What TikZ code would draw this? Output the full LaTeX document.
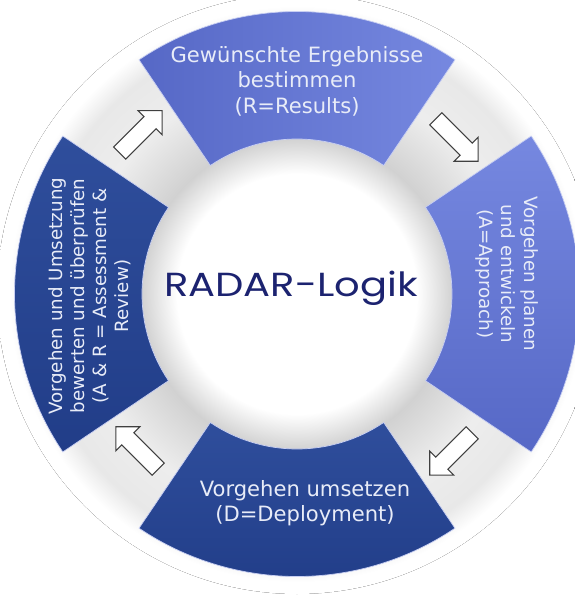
\documentclass[tikz,border=0pt]{standalone}
\usepackage{fontspec}
\setmainfont{DejaVu Sans}
\newfontfamily\titlefont{Poppins}
\usetikzlibrary{shapes.arrows}
\definecolor{RadarNavy}{HTML}{1C2370}
\definecolor{SegLight}{HTML}{7688E0}
\definecolor{SegMid}{HTML}{5668C6}
\definecolor{SegDark}{HTML}{2F4E9C}
\definecolor{SegDeep}{HTML}{213D88}
\definecolor{SegText}{HTML}{E8ECF8}
\pgfdeclareradialshading{ringglow}{\pgfpoint{0bp}{0bp}}{color(0bp)=(white); color(10bp)=(white); color(13bp)=(black!18); color(18bp)=(black!7); color(22bp)=(black!9); color(24bp)=(white); color(50bp)=(white)}

\begin{document}
\begin{tikzpicture}[
  seg/.style={draw=white!60!SegLight, line width=0.4pt},
  segtext/.style={text=SegText, align=center, inner sep=0pt},
  bigtext/.style={segtext, font=\fontsize{12}{14.5}\selectfont},
  sidetext/.style={segtext, font=\fontsize{10.4}{12.6}\selectfont},
  flowarrow/.style={single arrow, draw=black!75, fill=white, line width=0.6pt,
    minimum height=1.2cm, inner sep=0.16cm, single arrow head extend=0.17cm}
]
\useasboundingbox (-5.94,-6.04) rectangle (5.56,5.88);
\fill[white] (-5.94,-6.04) rectangle (5.56,5.88);
\fill[shading=ringglow] (0,0) circle (6.0);

% ring segments
\path[seg, left color=SegMid, right color=SegLight]
  (56:3.1) arc[start angle=56, end angle=124, radius=3.1]
  -- (124:5.65) arc[start angle=124, end angle=56, radius=5.65] -- cycle;
\path[seg, top color=SegLight, bottom color=SegMid]
  (-34:3.1) arc[start angle=-34, end angle=34, radius=3.1]
  -- (34:5.65) arc[start angle=34, end angle=-34, radius=5.65] -- cycle;
\path[seg, top color=SegDark, bottom color=SegDeep]
  (236:3.1) arc[start angle=236, end angle=304, radius=3.1]
  -- (304:5.65) arc[start angle=304, end angle=236, radius=5.65] -- cycle;
\path[seg, top color=SegDark, bottom color=SegDeep]
  (146:3.1) arc[start angle=146, end angle=214, radius=3.1]
  -- (214:5.65) arc[start angle=214, end angle=146, radius=5.65] -- cycle;

\node[bigtext] (res) at (0,4.26) {Gewünschte Ergebnisse\\bestimmen\\(R=Results)};
\node[sidetext, rotate=-90] (app) at (4.2,0.4) {Vorgehen planen\\und entwickeln\\(A=Approach)};
\node[bigtext] (dep) at (0.16,-4.18) {Vorgehen umsetzen\\(D=Deployment)};
\node[sidetext, rotate=90] (ass) at (-4.14,-0.04) {Vorgehen und Umsetzung\\bewerten und überprüfen\\(A \& R = Assessment \&\\Review)};

\node[font=\titlefont\fontsize{19}{21}\selectfont, text=RadarNavy, anchor=base, xscale=1.2] (logik) at (-0.12,-0.06) {RADAR-Logik};

% arrows between the segments
\node[flowarrow, rotate=-45] (r2a) at (45:4.44) {};
\node[flowarrow, rotate=-135] (a2d) at (-45:4.44) {};
\node[flowarrow, rotate=135] (d2ar) at (225:4.44) {};
\node[flowarrow, rotate=45] (ar2r) at (135:4.5) {};
\end{tikzpicture}
\end{document}
